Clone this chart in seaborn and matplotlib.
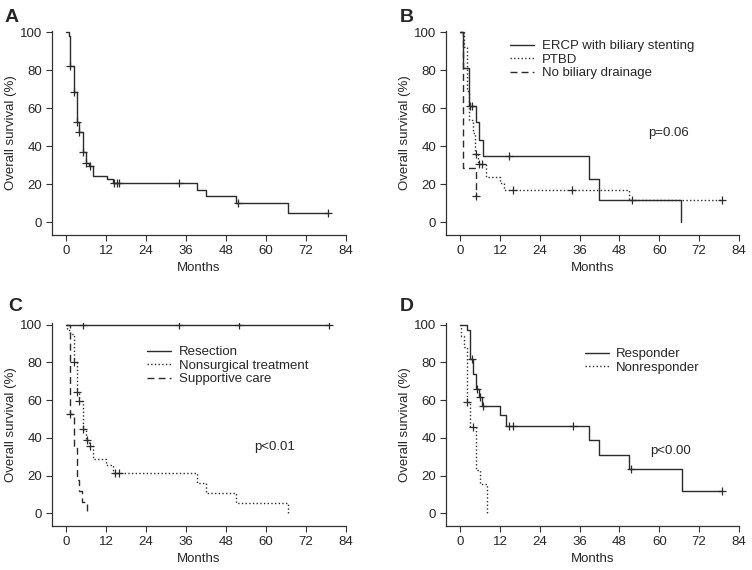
import matplotlib
matplotlib.use('Agg')
import matplotlib.pyplot as plt
import seaborn as sns

# Kaplan-Meier step points (months, survival %)
# Panel A: all patients
a_t = [0, 0.9, 1.2, 2.2, 3.2, 4.0, 5.0, 6.0, 7.0, 8.0, 12.2, 14.0, 39.2, 42.0, 51.0, 66.8, 78.7]
a_s = [100, 98, 82.5, 68.5, 53, 47.5, 37, 31, 29.5, 24.5, 22.5, 20.5, 16.8, 13.5, 10, 5, 5]
a_ct = [1.0, 2.2, 3.2, 4.0, 5.0, 6.0, 7.2, 14.5, 15.2, 15.8, 34.0, 51.7, 78.7]
a_cs = [82.5, 68.5, 53, 47.5, 37, 31, 29.5, 20.5, 20.5, 20.5, 20.5, 10, 5]

# Panel B: biliary drainage
ercp_t = [0, 0.9, 2.7, 4.8, 5.8, 6.8, 38.8, 41.8, 66.6]
ercp_s = [100, 81, 61, 52.5, 43.5, 35, 22.7, 11.6, 0]
ercp_ct = [2.9, 3.7, 14.8]
ercp_cs = [61, 61, 35]
ptbd_t = [0, 1.0, 2.0, 2.8, 3.8, 4.6, 5.3, 7.8, 12.0, 13.3, 50.8, 78.8]
ptbd_s = [100, 92, 69, 54, 47, 36, 30.5, 24, 20.5, 17, 11.6, 11.6]
ptbd_ct = [4.8, 5.8, 6.6, 15.8, 33.8, 51.8, 78.8]
ptbd_cs = [36, 30.5, 30.5, 17, 17, 11.6, 11.6]
nodr_t = [0, 0.8, 4.8]
nodr_s = [100, 28.5, 14]
nodr_ct = [4.8]
nodr_cs = [14]

# Panel C: treatment
res_t = [0, 79]
res_s = [100, 100]
res_ct = [5.2, 34.0, 52.0, 79.0]
res_cs = [100, 100, 100, 100]
nons_t = [0, 0.3, 1.2, 2.2, 3.2, 4.0, 5.0, 6.0, 6.8, 8.0, 12.0, 14.0, 39.2, 42.0, 51.0, 66.8]
nons_s = [100, 97, 95, 80, 64.5, 59.5, 45, 39, 35.5, 29, 25.5, 21.5, 16, 11, 5.3, 0]
nons_ct = [2.2, 3.2, 4.0, 5.2, 6.2, 7.2, 14.8, 15.8]
nons_cs = [80, 64.5, 59.5, 45, 39, 35.5, 21.5, 21.5]
supp_t = [0, 1.0, 2.2, 3.2, 3.8, 4.9, 6.2]
supp_s = [100, 52.5, 35, 17.5, 12, 6, 0]
supp_ct = [1.2]
supp_cs = [52.5]

# Panel D: response
resp_t = [0, 2.0, 3.0, 4.0, 4.8, 5.8, 6.6, 12.0, 13.8, 38.8, 41.8, 51.0, 66.8, 78.8]
resp_s = [100, 97, 82, 74, 66, 61.5, 57, 52, 46.5, 39, 31, 23.5, 11.7, 11.7]
resp_ct = [3.6, 5.0, 6.0, 6.8, 14.8, 15.8, 34.0, 51.6, 78.8]
resp_cs = [82, 66, 61.5, 57, 46.5, 46.5, 46.5, 23.5, 11.7]
nonr_t = [0, 0.2, 1.0, 2.0, 3.0, 4.8, 6.0, 8.0]
nonr_s = [100, 94, 88, 59, 46, 23, 15.5, 0]
nonr_ct = [2.0, 3.8]
nonr_cs = [59, 46]

sns.set_theme(style='ticks')
plt.rcParams['font.family'] = ['Liberation Sans', 'DejaVu Sans']
plt.rcParams['font.size'] = 9.5

LC = '#2b2b2b'

fig = plt.figure(figsize=(7.52, 5.70), dpi=100)
ax_a = fig.add_axes([0.069, 0.588, 0.391, 0.358])
ax_b = fig.add_axes([0.593, 0.588, 0.390, 0.358])
ax_c = fig.add_axes([0.069, 0.077, 0.391, 0.356])
ax_d = fig.add_axes([0.593, 0.077, 0.390, 0.356])


def km(ax, t, s, ct, cs, ls, label=None):
    sns.lineplot(x=t, y=s, ax=ax, drawstyle='steps-post', estimator=None, sort=False,
                 color=LC, linestyle=ls, linewidth=1.0, label=label)
    sns.scatterplot(x=ct, y=cs, ax=ax, marker='+', s=26, color=LC, linewidth=0.9)


def style(ax):
    ax.set_xlim(-4.3, 84.1)
    ax.set_ylim(-6.7, 100.8)
    ax.set_xticks(range(0, 85, 12))
    ax.set_yticks(range(0, 101, 20))
    ax.tick_params(labelsize=9.5, length=4, width=0.8, color='#333333', pad=3)
    for sp in ['left', 'bottom']:
        ax.spines[sp].set_color('#333333')
        ax.spines[sp].set_linewidth(0.9)
    sns.despine(ax=ax)
    ax.set_xlabel('Months', fontsize=9.5, labelpad=4)
    ax.set_ylabel('Overall survival (%)', fontsize=9.5, labelpad=2)


km(ax_a, a_t, a_s, a_ct, a_cs, '-')

km(ax_b, ercp_t, ercp_s, ercp_ct, ercp_cs, '-', 'ERCP with biliary stenting')
km(ax_b, ptbd_t, ptbd_s, ptbd_ct, ptbd_cs, ':', 'PTBD')
km(ax_b, nodr_t, nodr_s, nodr_ct, nodr_cs, (0, (5, 3)), 'No biliary drainage')

km(ax_c, res_t, res_s, res_ct, res_cs, '-', 'Resection')
km(ax_c, nons_t, nons_s, nons_ct, nons_cs, ':', 'Nonsurgical treatment')
km(ax_c, supp_t, supp_s, supp_ct, supp_cs, (0, (5, 3)), 'Supportive care')

km(ax_d, resp_t, resp_s, resp_ct, resp_cs, '-', 'Responder')
km(ax_d, nonr_t, nonr_s, nonr_ct, nonr_cs, ':', 'Nonresponder')

for ax in [ax_a, ax_b, ax_c, ax_d]:
    style(ax)

leg_kw = dict(frameon=False, fontsize=9.5, handlelength=1.85, handletextpad=0.55,
              labelspacing=0.1, borderaxespad=0, loc='upper left')
ax_b.legend(bbox_to_anchor=(0.2, 0.98), **leg_kw)
ax_c.legend(bbox_to_anchor=(0.305, 0.914), **leg_kw)
ax_d.legend(bbox_to_anchor=(0.455, 0.904), **leg_kw)

ax_b.text(56.7, 47, 'p=0.06', fontsize=9.5, va='center')
ax_c.text(56.5, 35, 'p<0.01', fontsize=9.5, va='center')
ax_d.text(57.3, 33.3, 'p<0.00', fontsize=9.5, va='center')

for lab, x, y in [('A', 0.006, 0.985), ('B', 0.531, 0.985), ('C', 0.011, 0.478), ('D', 0.531, 0.478)]:
    fig.text(x, y, lab, fontsize=14, fontweight='bold', va='top', ha='left')

fig.savefig('out.png', dpi=100)
